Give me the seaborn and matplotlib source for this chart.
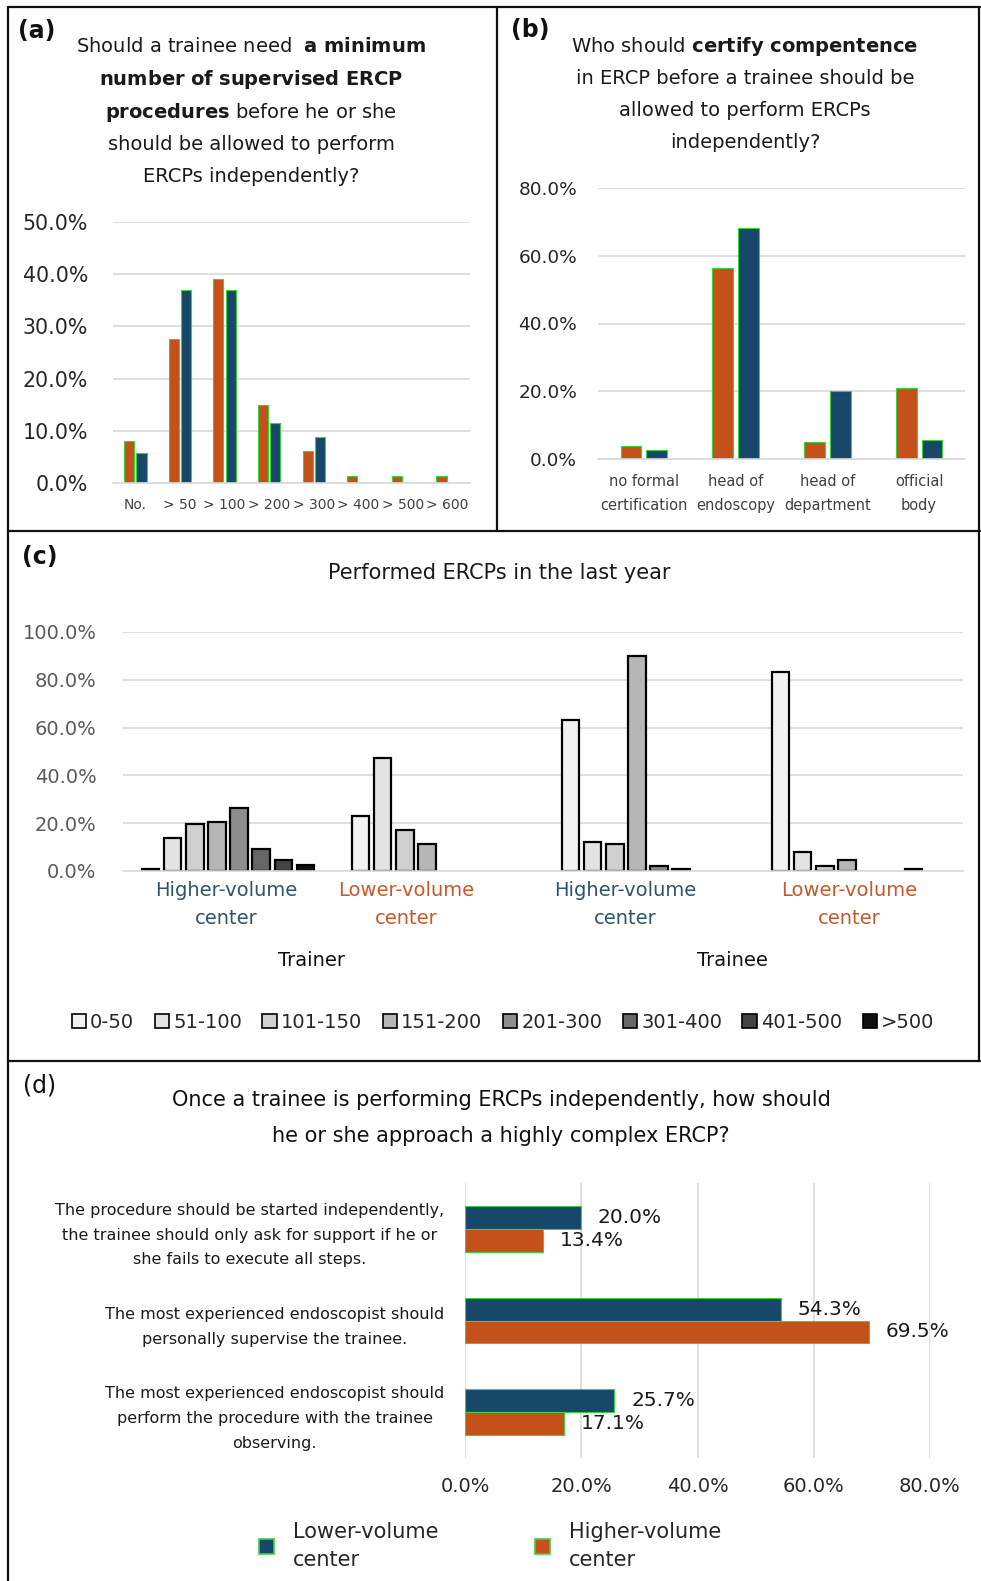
import numpy as np
import pandas as pd
import matplotlib
matplotlib.use("Agg")
import matplotlib.pyplot as plt
import seaborn as sns
from matplotlib.ticker import PercentFormatter, MultipleLocator
from matplotlib.patches import Patch
from matplotlib.lines import Line2D

# ---------------- data ----------------
# (a) minimum number of supervised ERCPs
a_categories = ["No.", "> 50", "> 100", "> 200", "> 300", "> 400", "> 500", "> 600"]
a_higher = [8.0, 27.6, 39.0, 14.9, 6.2, 1.3, 1.3, 1.3]     # orange
a_lower = [5.7, 37.0, 37.0, 11.5, 8.9, 0.0, 0.0, 0.0]      # blue

# (b) who should certify competence
b_categories = ["no formal\ncertification", "head of\nendoscopy",
                "head of\ndepartment", "official\nbody"]
b_higher = [3.9, 56.5, 5.0, 21.0]
b_lower = [2.8, 68.1, 20.0, 5.7]

# (c) performed ERCPs in the last year
c_groups = ["Trainer | Higher-volume", "Trainer | Lower-volume",
            "Trainee | Higher-volume", "Trainee | Lower-volume"]
c_group_labels = ["Higher-volume\ncenter", "Lower-volume\ncenter",
                  "Higher-volume\ncenter", "Lower-volume\ncenter"]
c_roles = ["Trainer", "Trainee"]
c_ranges = ["0-50", "51-100", "101-150", "151-200", "201-300", "301-400", "401-500", ">500"]
c_trainer_higher = [1.0, 14.0, 19.7, 20.7, 26.3, 9.1, 4.7, 2.5]
c_trainer_lower = [23.0, 47.3, 17.2, 11.2, 0.0, 0.0, 0.0, 0.0]
c_trainee_higher = [63.0, 12.3, 11.3, 89.8, 2.2, 0.7, 0.0, 0.0]
c_trainee_lower = [83.2, 8.1, 2.2, 4.7, 0.0, 0.0, 0.7, 0.0]

# (d) approach to a highly complex ERCP
d_questions = ["The procedure should be started independently,\nthe trainee should only ask for support if he or\nshe fails to execute all steps.",
               "The most experienced endoscopist should\npersonally supervise the trainee.",
               "The most experienced endoscopist should\nperform the procedure with the trainee\nobserving."]
d_lower = [20.0, 54.3, 25.7]
d_higher = [13.4, 69.5, 17.1]
d_series = ["Lower-volume\ncenter", "Higher-volume\ncenter"]

# ---------------- style ----------------
sns.set_theme(style="white")
plt.rcParams["font.family"] = ["DejaVu Sans"]
plt.rcParams["mathtext.fontset"] = "dejavusans"
plt.rcParams["mathtext.default"] = "regular"

ORANGE = "#C5511A"
BLUE = "#17486A"
GREEN = "#3CD23C"
GRID = "#D9D9D9"
GREYS = ["#F2F2F2", "#E3E3E3", "#D0D0D0", "#B6B6B6", "#8E8E8E", "#666666", "#444444", "#111111"]

W, H = 981, 1581
fig = plt.figure(figsize=(W / 100, H / 100), dpi=100)


def px_axes(x0, y0, x1, y1):
    return fig.add_axes([x0 / W, 1 - y1 / H, (x1 - x0) / W, (y1 - y0) / H])


def ftext(x, y, s, **kw):
    fig.text(x / W, 1 - y / H, s, ha=kw.pop("ha", "center"), va=kw.pop("va", "center"), **kw)


def style_vert(ax, top, step, tick_color, ysize, ypad):
    ax.set_ylim(0, top)
    ax.yaxis.set_major_locator(MultipleLocator(step))
    ax.yaxis.set_major_formatter(PercentFormatter(100, decimals=1))
    ax.grid(axis="y", color=GRID, lw=1.2)
    ax.set_axisbelow(True)
    for s in ["left", "right", "top"]:
        ax.spines[s].set_visible(False)
    ax.spines["bottom"].set_color(GRID)
    ax.spines["bottom"].set_linewidth(1.2)
    ax.tick_params(axis="both", length=0)
    ax.tick_params(axis="y", labelsize=ysize, labelcolor=tick_color, pad=ypad)
    ax.set_xlabel("")
    ax.set_ylabel("")


# ---------------- (a) ----------------
df_a = pd.DataFrame({"cat": a_categories * 2,
                     "val": a_higher + a_lower,
                     "series": ["Higher-volume center"] * len(a_categories) + ["Lower-volume center"] * len(a_categories)})
ax_a = px_axes(113, 222, 470, 483)
sns.barplot(data=df_a, x="cat", y="val", hue="series", order=a_categories,
            hue_order=["Higher-volume center", "Lower-volume center"],
            palette=[ORANGE, BLUE], saturation=1, width=0.56, gap=0.19, edgecolor=GREEN,
            linewidth=0.8, errorbar=None, legend=False, ax=ax_a)
for p in ax_a.patches:
    if p.get_height() == 0:
        p.set_visible(False)
style_vert(ax_a, 50, 10, "#262626", 14.8, 18)
ax_a.set_xlim(-0.5, len(a_categories) - 0.5)
ax_a.tick_params(axis="x", labelsize=10, labelcolor="#404040", pad=11)

# ---------------- (b) ----------------
df_b = pd.DataFrame({"cat": b_categories * 2,
                     "val": b_higher + b_lower,
                     "series": ["Higher-volume center"] * len(b_categories) + ["Lower-volume center"] * len(b_categories)})
ax_b = px_axes(598, 188, 965, 459)
sns.barplot(data=df_b, x="cat", y="val", hue="series", order=b_categories,
            hue_order=["Higher-volume center", "Lower-volume center"],
            palette=[ORANGE, BLUE], saturation=1, width=0.56, gap=0.19, edgecolor=GREEN,
            linewidth=0.8, errorbar=None, legend=False, ax=ax_b)
style_vert(ax_b, 80, 20, "#262626", 13.3, 15)
ax_b.set_xlim(-0.5, len(b_categories) - 0.5)
ax_b.tick_params(axis="x", labelsize=10.5, labelcolor="#404040", pad=11)
for lbl in ax_b.get_xticklabels():
    lbl.set_linespacing(1.75)

# ---------------- (c) ----------------
c_values = [c_trainer_higher, c_trainer_lower, c_trainee_higher, c_trainee_lower]
df_c = pd.DataFrame([(g, r, v) for g, vals in zip(c_groups, c_values) for r, v in zip(c_ranges, vals)],
                    columns=["group", "range", "val"])
ax_c = px_axes(123, 632, 963, 871)
sns.barplot(data=df_c, x="group", y="val", hue="range", order=c_groups, hue_order=c_ranges,
            palette=GREYS, saturation=1, width=0.84, gap=0.22, edgecolor="black", linewidth=1.6,
            errorbar=None, legend=False, ax=ax_c)
for p in ax_c.patches:
    if p.get_height() == 0:
        p.set_visible(False)
style_vert(ax_c, 100, 20, "#595959", 14, 19)
ax_c.set_xlim(-0.5, len(c_groups) - 0.5)
ax_c.set_xticks(range(len(c_groups)))
ax_c.set_xticklabels([""] * len(c_groups))
label_shift = [-0.01, -0.15, -0.11, -0.04]
label_colors = ["#2C5569", "#C45A2A", "#2C5569", "#C45A2A"]
for i, (lab, sh, col) in enumerate(zip(c_group_labels, label_shift, label_colors)):
    ax_c.text(i + sh, -0.04, lab, transform=ax_c.get_xaxis_transform(), ha="center", va="top",
              fontsize=14, color=col, linespacing=1.6)
for j, role in enumerate(c_roles):
    ax_c.text(2 * j + 0.4, -0.375, role, transform=ax_c.get_xaxis_transform(), ha="center",
              va="center", fontsize=14, color="#111111")
c_handles = [Patch(facecolor=c, edgecolor="black", linewidth=1.2) for c in GREYS]
fig.legend(c_handles, c_ranges, loc="center", bbox_to_anchor=(503 / W, 1 - 1022 / H), ncol=8,
           frameon=False, fontsize=14, handlelength=0.75, handleheight=0.75, handletextpad=0.2,
           columnspacing=1.05, borderpad=0)

# ---------------- (d) ----------------
df_d = pd.DataFrame({"q": d_questions * 2,
                     "val": d_lower + d_higher,
                     "series": [d_series[0]] * len(d_questions) + [d_series[1]] * len(d_questions)})
ax_d = px_axes(465, 1183, 930, 1458)
sns.barplot(data=df_d, y="q", x="val", hue="series", order=d_questions, hue_order=d_series,
            palette=[BLUE, ORANGE], saturation=1, orient="h", width=0.5, gap=0, edgecolor=GREEN,
            linewidth=0.8, errorbar=None, legend=False, ax=ax_d)
ax_d.set_xlim(0, 80)
ax_d.xaxis.set_major_locator(MultipleLocator(20))
ax_d.xaxis.set_major_formatter(PercentFormatter(100, decimals=1))
ax_d.grid(axis="x", color=GRID, lw=1.2)
ax_d.set_axisbelow(True)
for s in ax_d.spines.values():
    s.set_visible(False)
ax_d.tick_params(axis="both", length=0)
ax_d.tick_params(axis="x", labelsize=14, labelcolor="#262626", pad=14)
ax_d.tick_params(axis="y", labelsize=11.5, labelcolor="#1a1a1a", pad=15)
for lbl in ax_d.get_yticklabels():
    lbl.set_multialignment("center")
    lbl.set_linespacing(1.8)
ax_d.set_xlabel("")
ax_d.set_ylabel("")
for cont in ax_d.containers:
    ax_d.bar_label(cont, fmt="{:.1f}%", padding=12, fontsize=14.5, color="#1a1a1a")
d_handles = [Patch(facecolor=BLUE, edgecolor=GREEN, linewidth=1.2),
             Patch(facecolor=ORANGE, edgecolor=GREEN, linewidth=1.2)]
leg_d = fig.legend(d_handles, d_series, loc="center", bbox_to_anchor=(490 / W, 1 - 1546 / H), ncol=2,
                   frameon=False, fontsize=15, handlelength=0.75, handleheight=0.75, handletextpad=0.9,
                   columnspacing=4.6, borderpad=0)
for t in leg_d.get_texts():
    t.set_linespacing(1.55)

# ---------------- titles & panel labels ----------------
a_title = [r"Should a trainee need  $\bf{a\ minimum}$",
           r"$\bf{number\ of\ supervised\ ERCP}$",
           r"$\bf{procedures}$ before he or she",
           "should be allowed to perform",
           "ERCPs independently?"]
for k, line in enumerate(a_title):
    ftext(251, 47 + 32.5 * k, line, fontsize=14, color="#1a1a1a")
b_title = [r"Who should $\bf{certify\ compentence}$",
           "in ERCP before a trainee should be",
           "allowed to perform ERCPs",
           "independently?"]
for k, line in enumerate(b_title):
    ftext(745, 47 + 32 * k, line, fontsize=14, color="#1a1a1a")
ftext(499, 573, "Performed ERCPs in the last year", fontsize=15, color="#1a1a1a")
ftext(501, 1100, "Once a trainee is performing ERCPs independently, how should", fontsize=15, color="#111111")
ftext(501, 1136, "he or she approach a highly complex ERCP?", fontsize=15, color="#111111")

ftext(37, 31, "(a)", fontsize=17, fontweight="bold", color="#111111")
ftext(530, 30, "(b)", fontsize=17, fontweight="bold", color="#111111")
ftext(40, 557, "(c)", fontsize=17, fontweight="bold", color="#111111")
ftext(40, 1086, "(d)", fontsize=17, color="#111111")

# ---------------- panel borders ----------------
def fline(x0, y0, x1, y1, lw=1.6):
    fig.add_artist(Line2D([x0 / W, x1 / W], [1 - y0 / H, 1 - y1 / H], color="#111111", lw=lw,
                          transform=fig.transFigure))

fline(8, 7, 980, 7)
fline(8, 7, 8, 1581)
fline(979, 7, 979, 1061)
fline(497, 7, 497, 531)
fline(8, 531, 980, 531)
fline(8, 1061, 980, 1061)

fig.savefig("out.png", dpi=100, facecolor="white")
